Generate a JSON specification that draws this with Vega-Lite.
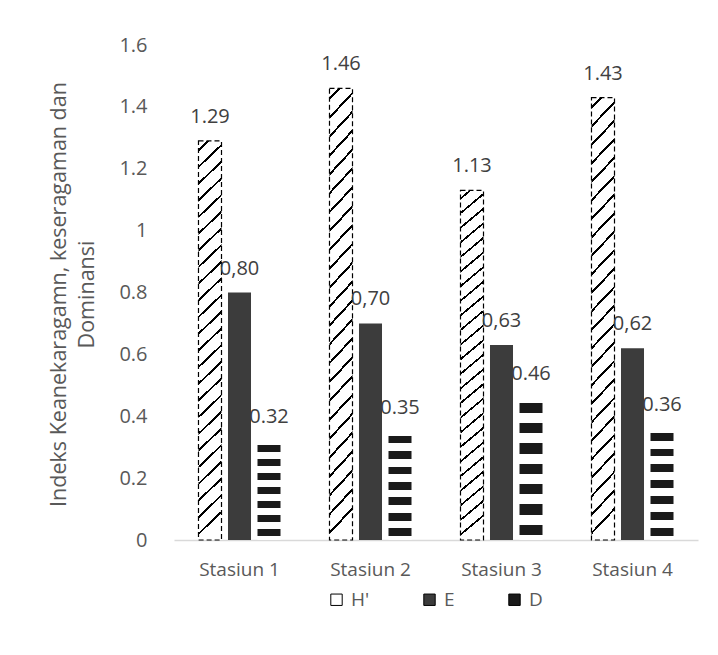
{
  "$schema": "https://vega.github.io/schema/vega-lite/v6.json",
  "autosize": {"type": "none"},
  "padding": {"left": 174, "top": 45, "right": 20, "bottom": 115},
  "width": 524,
  "height": 495,
  "background": "#ffffff",
  "config": {
    "view": {"stroke": null},
    "font": "Open Sans",
    "axis": {"labelFont": "Open Sans", "titleFont": "Open Sans"},
    "legend": {"labelFont": "Open Sans"}
  },
  "data": {
    "values": [
      {"station": "Stasiun 1", "series": "H'", "value": 1.29, "label": "1.29"},
      {"station": "Stasiun 1", "series": "E", "value": 0.80, "label": "0,80"},
      {"station": "Stasiun 1", "series": "D", "value": 0.32, "label": "0.32"},
      {"station": "Stasiun 2", "series": "H'", "value": 1.46, "label": "1.46"},
      {"station": "Stasiun 2", "series": "E", "value": 0.70, "label": "0,70"},
      {"station": "Stasiun 2", "series": "D", "value": 0.35, "label": "0.35"},
      {"station": "Stasiun 3", "series": "H'", "value": 1.13, "label": "1.13"},
      {"station": "Stasiun 3", "series": "E", "value": 0.63, "label": "0,63"},
      {"station": "Stasiun 3", "series": "D", "value": 0.46, "label": "0.46"},
      {"station": "Stasiun 4", "series": "H'", "value": 1.43, "label": "1.43"},
      {"station": "Stasiun 4", "series": "E", "value": 0.62, "label": "0,62"},
      {"station": "Stasiun 4", "series": "D", "value": 0.36, "label": "0.36"}
    ]
  },
  "encoding": {
    "x": {
      "field": "station", "type": "nominal", "sort": null,
      "scale": {"paddingInner": 0, "paddingOuter": 0},
      "axis": {
        "title": null, "labelAngle": 0, "ticks": false,
        "domainColor": "#d9d9d9", "domainWidth": 1.5,
        "labelFontSize": 19, "labelColor": "#595959", "labelPadding": 20
      }
    },
    "xOffset": {
      "field": "series", "type": "nominal", "sort": ["H'", "E", "D"],
      "scale": {"paddingInner": 0.22, "paddingOuter": 0.83}
    },
    "y": {
      "field": "value", "type": "quantitative",
      "scale": {"domain": [0, 1.6], "nice": false},
      "axis": {
        "values": [0, 0.2, 0.4, 0.6, 0.8, 1, 1.2, 1.4, 1.6],
        "format": "~g", "grid": false, "domain": false, "ticks": false,
        "labelFontSize": 20, "labelColor": "#595959", "labelPadding": 27,
        "title": ["Indeks Keanekaragamn, keseragaman dan", "Dominansi"],
        "titleFontSize": 21.5, "titleFontWeight": "normal", "titleColor": "#595959",
        "titleAngle": 270, "titleAlign": "center", "titleBaseline": "alphabetic",
        "titleLineHeight": 28, "titleX": -109, "titleY": 249
      }
    }
  },
  "layer": [
    {
      "mark": {"type": "bar"},
      "encoding": {
        "fill": {
          "condition": [
            {
              "test": "datum.series === 'D'",
              "value": {
                "gradient": "linear", "x1": 0, "y1": 0, "x2": 0, "y2": 1,
                "stops": [
                  {"offset": 0, "color": "#ffffff"},
                  {"offset": 0.0357, "color": "#ffffff"}, {"offset": 0.0357, "color": "#1a1a1a"},
                  {"offset": 0.1071, "color": "#1a1a1a"}, {"offset": 0.1071, "color": "#ffffff"},
                  {"offset": 0.1786, "color": "#ffffff"}, {"offset": 0.1786, "color": "#1a1a1a"},
                  {"offset": 0.25, "color": "#1a1a1a"}, {"offset": 0.25, "color": "#ffffff"},
                  {"offset": 0.3214, "color": "#ffffff"}, {"offset": 0.3214, "color": "#1a1a1a"},
                  {"offset": 0.3929, "color": "#1a1a1a"}, {"offset": 0.3929, "color": "#ffffff"},
                  {"offset": 0.4643, "color": "#ffffff"}, {"offset": 0.4643, "color": "#1a1a1a"},
                  {"offset": 0.5357, "color": "#1a1a1a"}, {"offset": 0.5357, "color": "#ffffff"},
                  {"offset": 0.6071, "color": "#ffffff"}, {"offset": 0.6071, "color": "#1a1a1a"},
                  {"offset": 0.6786, "color": "#1a1a1a"}, {"offset": 0.6786, "color": "#ffffff"},
                  {"offset": 0.75, "color": "#ffffff"}, {"offset": 0.75, "color": "#1a1a1a"},
                  {"offset": 0.8214, "color": "#1a1a1a"}, {"offset": 0.8214, "color": "#ffffff"},
                  {"offset": 0.8929, "color": "#ffffff"}, {"offset": 0.8929, "color": "#1a1a1a"},
                  {"offset": 0.9643, "color": "#1a1a1a"}, {"offset": 0.9643, "color": "#ffffff"},
                  {"offset": 1, "color": "#ffffff"}
                ]
              }
            },
            {
              "test": "datum.series === \"H'\"",
              "value": {
                "gradient": "linear", "x1": 0, "y1": 0, "x2": 0.055, "y2": 1,
                "stops": [
                  {"offset": 0, "color": "#ffffff"},
                  {"offset": 0.0200, "color": "#ffffff"}, {"offset": 0.0200, "color": "#000000"}, {"offset": 0.0265, "color": "#000000"}, {"offset": 0.0265, "color": "#ffffff"},
                  {"offset": 0.0617, "color": "#ffffff"}, {"offset": 0.0617, "color": "#000000"}, {"offset": 0.0682, "color": "#000000"}, {"offset": 0.0682, "color": "#ffffff"},
                  {"offset": 0.1033, "color": "#ffffff"}, {"offset": 0.1033, "color": "#000000"}, {"offset": 0.1098, "color": "#000000"}, {"offset": 0.1098, "color": "#ffffff"},
                  {"offset": 0.1450, "color": "#ffffff"}, {"offset": 0.1450, "color": "#000000"}, {"offset": 0.1515, "color": "#000000"}, {"offset": 0.1515, "color": "#ffffff"},
                  {"offset": 0.1867, "color": "#ffffff"}, {"offset": 0.1867, "color": "#000000"}, {"offset": 0.1932, "color": "#000000"}, {"offset": 0.1932, "color": "#ffffff"},
                  {"offset": 0.2283, "color": "#ffffff"}, {"offset": 0.2283, "color": "#000000"}, {"offset": 0.2348, "color": "#000000"}, {"offset": 0.2348, "color": "#ffffff"},
                  {"offset": 0.2700, "color": "#ffffff"}, {"offset": 0.2700, "color": "#000000"}, {"offset": 0.2765, "color": "#000000"}, {"offset": 0.2765, "color": "#ffffff"},
                  {"offset": 0.3117, "color": "#ffffff"}, {"offset": 0.3117, "color": "#000000"}, {"offset": 0.3182, "color": "#000000"}, {"offset": 0.3182, "color": "#ffffff"},
                  {"offset": 0.3533, "color": "#ffffff"}, {"offset": 0.3533, "color": "#000000"}, {"offset": 0.3598, "color": "#000000"}, {"offset": 0.3598, "color": "#ffffff"},
                  {"offset": 0.3950, "color": "#ffffff"}, {"offset": 0.3950, "color": "#000000"}, {"offset": 0.4015, "color": "#000000"}, {"offset": 0.4015, "color": "#ffffff"},
                  {"offset": 0.4367, "color": "#ffffff"}, {"offset": 0.4367, "color": "#000000"}, {"offset": 0.4432, "color": "#000000"}, {"offset": 0.4432, "color": "#ffffff"},
                  {"offset": 0.4783, "color": "#ffffff"}, {"offset": 0.4783, "color": "#000000"}, {"offset": 0.4848, "color": "#000000"}, {"offset": 0.4848, "color": "#ffffff"},
                  {"offset": 0.5200, "color": "#ffffff"}, {"offset": 0.5200, "color": "#000000"}, {"offset": 0.5265, "color": "#000000"}, {"offset": 0.5265, "color": "#ffffff"},
                  {"offset": 0.5617, "color": "#ffffff"}, {"offset": 0.5617, "color": "#000000"}, {"offset": 0.5682, "color": "#000000"}, {"offset": 0.5682, "color": "#ffffff"},
                  {"offset": 0.6033, "color": "#ffffff"}, {"offset": 0.6033, "color": "#000000"}, {"offset": 0.6098, "color": "#000000"}, {"offset": 0.6098, "color": "#ffffff"},
                  {"offset": 0.6450, "color": "#ffffff"}, {"offset": 0.6450, "color": "#000000"}, {"offset": 0.6515, "color": "#000000"}, {"offset": 0.6515, "color": "#ffffff"},
                  {"offset": 0.6867, "color": "#ffffff"}, {"offset": 0.6867, "color": "#000000"}, {"offset": 0.6932, "color": "#000000"}, {"offset": 0.6932, "color": "#ffffff"},
                  {"offset": 0.7283, "color": "#ffffff"}, {"offset": 0.7283, "color": "#000000"}, {"offset": 0.7348, "color": "#000000"}, {"offset": 0.7348, "color": "#ffffff"},
                  {"offset": 0.7700, "color": "#ffffff"}, {"offset": 0.7700, "color": "#000000"}, {"offset": 0.7765, "color": "#000000"}, {"offset": 0.7765, "color": "#ffffff"},
                  {"offset": 0.8117, "color": "#ffffff"}, {"offset": 0.8117, "color": "#000000"}, {"offset": 0.8182, "color": "#000000"}, {"offset": 0.8182, "color": "#ffffff"},
                  {"offset": 0.8533, "color": "#ffffff"}, {"offset": 0.8533, "color": "#000000"}, {"offset": 0.8598, "color": "#000000"}, {"offset": 0.8598, "color": "#ffffff"},
                  {"offset": 0.8950, "color": "#ffffff"}, {"offset": 0.8950, "color": "#000000"}, {"offset": 0.9015, "color": "#000000"}, {"offset": 0.9015, "color": "#ffffff"},
                  {"offset": 0.9367, "color": "#ffffff"}, {"offset": 0.9367, "color": "#000000"}, {"offset": 0.9432, "color": "#000000"}, {"offset": 0.9432, "color": "#ffffff"},
                  {"offset": 0.9783, "color": "#ffffff"}, {"offset": 0.9783, "color": "#000000"}, {"offset": 0.9848, "color": "#000000"}, {"offset": 0.9848, "color": "#ffffff"},
                  {"offset": 1, "color": "#ffffff"}
                ]
              }
            }
          ],
          "field": "series", "type": "nominal",
          "scale": {"domain": ["H'", "E", "D"], "range": ["#ffffff", "#3c3c3c", "#1a1a1a"]},
          "legend": {
            "title": null, "orient": "none", "direction": "horizontal",
            "legendX": 153, "legendY": 545, "padding": 0,
            "symbolType": "square", "symbolSize": 130, "symbolStrokeColor": "#000000",
            "symbolStrokeWidth": 1, "labelFontSize": 19, "labelColor": "#595959",
            "labelOffset": 5, "columnPadding": 50
          }
        },
        "stroke": {"value": "#000000"},
        "strokeWidth": {"condition": {"test": "datum.series === \"H'\"", "value": 1.2}, "value": 0},
        "strokeDash": {"condition": {"test": "datum.series === \"H'\"", "value": [5, 3]}, "value": [1, 0]}
      }
    },
    {
      "mark": {"type": "text", "dy": -24, "baseline": "middle", "fontSize": 20, "color": "#404040", "font": "Open Sans"},
      "encoding": {"text": {"field": "label", "type": "nominal"}}
    }
  ]
}
